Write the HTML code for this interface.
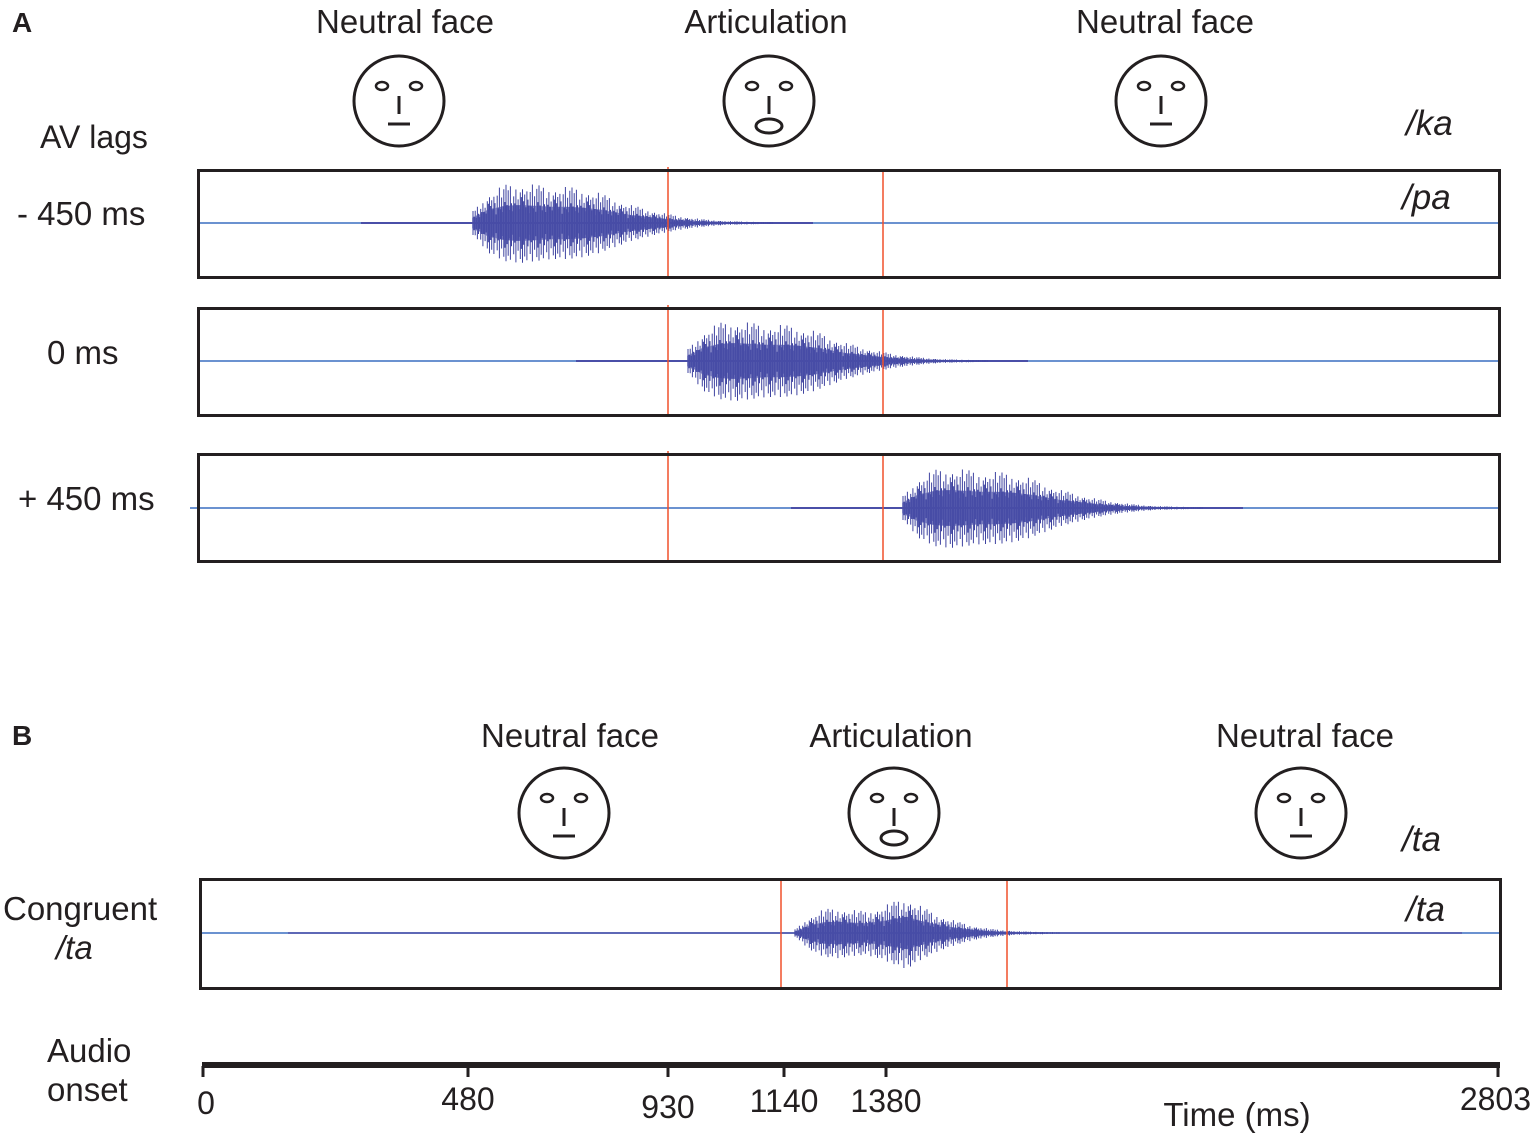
<!DOCTYPE html>
<html><head><meta charset="utf-8"><style>
html,body{margin:0;padding:0;background:#fff}
svg{display:block}
text{font-family:"Liberation Sans",sans-serif;fill:#231f20}
</style></head><body>
<svg id="fig" width="1535" height="1136" viewBox="0 0 1535 1136">
<g>
<text x="12" y="32" font-size="28" font-weight="bold">A</text>
<text x="405" y="33" font-size="33" text-anchor="middle">Neutral face</text>
<text x="766" y="33" font-size="33" text-anchor="middle">Articulation</text>
<text x="1165" y="33" font-size="33" text-anchor="middle">Neutral face</text>
<text x="1406" y="135" font-size="35" font-style="italic">/ka</text>
<text x="1402" y="209" font-size="35" font-style="italic">/pa</text>
<text x="40" y="148" font-size="32">AV lags</text>
<text x="17" y="225" font-size="33">- 450 ms</text>
<text x="47" y="364" font-size="33">0 ms</text>
<text x="18" y="510" font-size="33">+ 450 ms</text>
</g>
<g>
<text x="12" y="745" font-size="28" font-weight="bold">B</text>
<text x="570" y="747" font-size="33" text-anchor="middle">Neutral face</text>
<text x="891" y="747" font-size="33" text-anchor="middle">Articulation</text>
<text x="1305" y="747" font-size="33" text-anchor="middle">Neutral face</text>
<text x="1402" y="851" font-size="35" font-style="italic">/ta</text>
<text x="1406" y="921" font-size="35" font-style="italic">/ta</text>
<text x="3" y="920" font-size="33">Congruent</text>
<text x="56" y="959" font-size="33" font-style="italic">/ta</text>
<text x="47" y="1062" font-size="33">Audio</text>
<text x="47" y="1101" font-size="33">onset</text>
<text x="1237" y="1126" font-size="33" text-anchor="middle">Time (ms)</text>
</g>
<g id="dyn"></g>
</svg>
<script>
// Axis ticks (nonlinear placement in original figure)
const tickValues = [0, 480, 930, 1140, 1380, 2803];
const tickLabelDy = [0, -4, 0, -2, -2, -4];
// Waveform envelope (relative amplitude, sampled along burst)
const envelope = [0.3,0.75,0.95,1.0,0.95,0.9,0.9,0.85,0.75,0.6,0.45,0.35,0.25,0.18,0.12,0.08,0.05,0.04,0.03,0.02];
const envelopeB = [0.1,0.45,0.65,0.7,0.65,0.6,0.7,0.85,1.0,0.75,0.55,0.4,0.28,0.18,0.12,0.08,0.05,0.04,0.03,0.02];
const jitter = [1,0.55,0.85,0.4,0.95,0.6,0.3,0.8,0.5,1,0.45,0.7,0.35,0.9,0.65];
// Lag conditions (ms)
const lags = [-450, 0, 450];

const NS="http://www.w3.org/2000/svg";
const dyn=document.getElementById('dyn');
function mk(tag,attrs,parent){const e=document.createElementNS(NS,tag);for(const k in attrs)e.setAttribute(k,attrs[k]);(parent||dyn).appendChild(e);return e;}

const anchorT=[0,480,930,1140,1380,2803], anchorX=[203,468,668,784,886,1498];
function xTime(t){for(let i=1;i<anchorT.length;i++){if(t<=anchorT[i]){const f=(t-anchorT[i-1])/(anchorT[i]-anchorT[i-1]);return anchorX[i-1]+f*(anchorX[i]-anchorX[i-1]);}}return anchorX[anchorX.length-1];}
const pxPerLagMs=215/450;

function face(cx,cy,open,name){
 const g=mk('g',{});
 
 
 mk('circle',{cx:cx,cy:cy,r:45,fill:'none',stroke:'#231f20','stroke-width':3},g);
 mk('ellipse',{cx:cx-17,cy:cy-15,rx:6,ry:4,fill:'none',stroke:'#231f20','stroke-width':2.5},g);
 mk('ellipse',{cx:cx+17,cy:cy-15,rx:6,ry:4,fill:'none',stroke:'#231f20','stroke-width':2.5},g);
 mk('line',{x1:cx,y1:cy-5,x2:cx,y2:cy+13,stroke:'#231f20','stroke-width':3},g);
 if(open) mk('ellipse',{cx:cx,cy:cy+25,rx:13,ry:7,fill:'none',stroke:'#231f20','stroke-width':3},g);
 else mk('line',{x1:cx-11,y1:cy+23,x2:cx+11,y2:cy+23,stroke:'#231f20','stroke-width':3},g);
}
face(399,101,false,'neutral-face-icon-1');
face(769,101,true,'articulation-face-icon');
face(1161,101,false,'neutral-face-icon-2');
face(564,813,false,'neutral-face-icon-3');
face(894,813,true,'articulation-face-icon-b');
face(1301,813,false,'neutral-face-icon-4');

function wave(x0,x1,cy,amp,env,g){
 let d='';let k=0;
 for(let x=x0;x<=x1;x+=1.1){
  const f=(x-x0)/(x1-x0)*(env.length-1);const i=Math.floor(f);const fr=f-i;
  const e=env[i]*(1-fr)+(env[Math.min(i+1,env.length-1)])*fr;
  const a=amp*e*jitter[k%jitter.length];k++;
  const up=a*(k%2?1:0.85);
  d+='M'+x.toFixed(1)+' '+(cy-up).toFixed(1)+'V'+(cy+a).toFixed(1);
 }
 mk('path',{d:d,stroke:'#3f44a0','stroke-width':1,fill:'none'},g);
 let d2='';k=0;
 for(let x=x0;x<=x1;x+=2){
  const f=(x-x0)/(x1-x0)*(env.length-1);const i=Math.floor(f);const fr=f-i;
  const e=env[i]*(1-fr)+(env[Math.min(i+1,env.length-1)])*fr;
  const a=amp*0.45*e;k++;
  d2+='M'+x.toFixed(1)+' '+(cy-a).toFixed(1)+'V'+(cy+a).toFixed(1);
 }
 mk('path',{d:d2,stroke:'#4a4fa8','stroke-width':1.5,fill:'none'},g);
}

const boxYs=[169,307,453];
lags.forEach((lag,i)=>{
 const y=boxYs[i], cy=y+54+(i==2?1:0);
 const g=mk('g',{});
 
 
 mk('line',{x1:i==2?190:199,y1:cy,x2:1499,y2:cy,stroke:'#3a6fc0','stroke-width':1.5},g);
 const start=688+lag*pxPerLagMs;
 mk('line',{x1:start-112,y1:cy,x2:start+340,y2:cy,stroke:'#4a4fa8','stroke-width':2},g);
 wave(start,start+300,cy,40,envelope,g);
 mk('line',{x1:668,y1:y-2,x2:668,y2:y+108,stroke:'#f0502a','stroke-width':1.5},g);
 mk('line',{x1:883,y1:y,x2:883,y2:y+108,stroke:'#f0502a','stroke-width':1.5},g);
 mk('rect',{x:198.5,y:y+1.5,width:1301,height:107,fill:'none',stroke:'#231f20','stroke-width':3},g);
});

const gb=mk('g',{});


mk('line',{x1:201,y1:933,x2:1500,y2:933,stroke:'#3a6fc0','stroke-width':1.5},gb);
mk('line',{x1:288,y1:933,x2:1462,y2:933,stroke:'#4a4fa8','stroke-width':1.5},gb);
wave(795,1060,933,36,envelopeB,gb);
mk('line',{x1:781,y1:879,x2:781,y2:988,stroke:'#f0502a','stroke-width':1.5},gb);
mk('line',{x1:1007,y1:879,x2:1007,y2:988,stroke:'#f0502a','stroke-width':1.5},gb);
mk('rect',{x:200.5,y:879.5,width:1300,height:109,fill:'none',stroke:'#231f20','stroke-width':3},gb);

const ga=mk('g',{});


mk('rect',{x:202,y:1062,width:1298,height:6,fill:'#231f20'},ga);
tickValues.forEach((v,i)=>{
 const x=xTime(v);
 const t=mk('line',{x1:x,y1:1066,x2:x,y2:1077,stroke:'#231f20','stroke-width':3},ga);
 
 
 const last=i==tickValues.length-1;
 const lx = i==0 ? x+3 : (last ? 1531 : x);
 const tx=mk('text',{x:lx,y:1114+tickLabelDy[i]+(v==930?4:0),'font-size':32,'text-anchor':last?'end':'middle'},ga);
 
 
 tx.textContent=v;
});
</script>
</body></html>
